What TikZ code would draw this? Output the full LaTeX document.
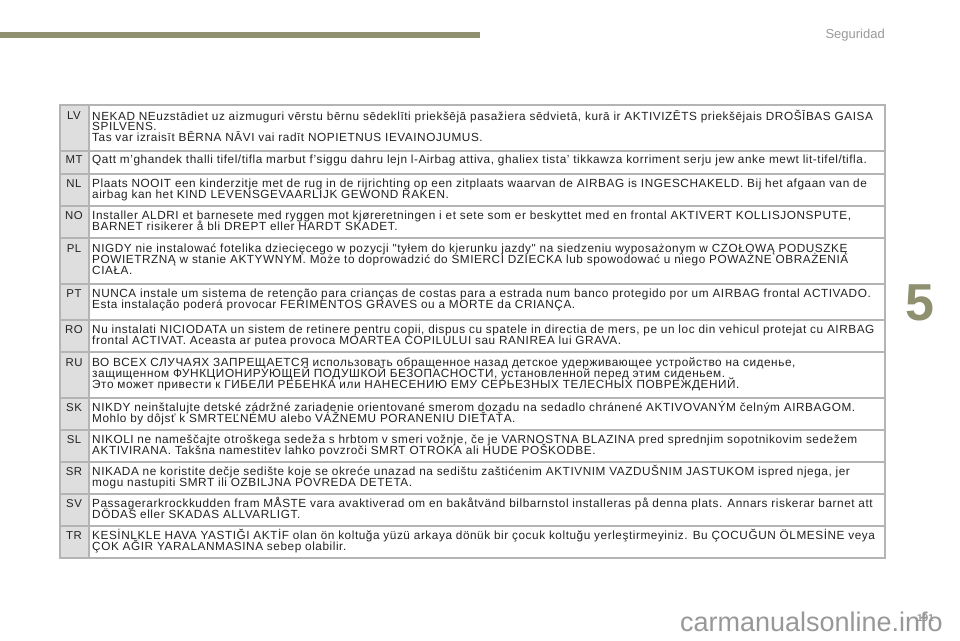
\documentclass[tikz,border=0pt]{standalone}
\usepackage{fontspec}
\setmainfont{Liberation Sans}
\newfontfamily\bodyfont[LetterSpace=4.7]{Liberation Sans}
\lineskiplimit=-100pt\relax
\normallineskiplimit=-100pt\relax
\definecolor{olivebar}{HTML}{8E9070}
\definecolor{rulegrey}{HTML}{B4B4B4}
\definecolor{codefill}{HTML}{DEDEDE}
\definecolor{headgrey}{HTML}{9A9A9A}
\definecolor{wmgrey}{HTML}{989898}
\definecolor{bodytext}{HTML}{222222}
\tikzset{
  x=1pt,y=-1pt,
  cellrule/.style={draw=rulegrey,line width=1.3pt},
  code/.style={anchor=base,font=\bodyfont\fontsize{11.4}{10.8}\selectfont,text=bodytext,inner sep=0pt},
  body/.style={anchor=north west,align=left,font=\bodyfont\fontsize{11.8}{10.8}\selectfont,text=bodytext,inner sep=0pt},
}
\newcommand{\rowtext}[3]{\node[body] (#1) at (92,#2-13.6) {\vrule height 14pt depth 0pt width 0pt\relax #3};}
\begin{document}
\begin{tikzpicture}
\useasboundingbox (0,0) rectangle (960,640);
\fill[white] (0,0) rectangle (960,640);
\fill[olivebar] (0,32) rectangle (480,38);
\node[anchor=base east,inner sep=0pt,text=headgrey,font=\fontsize{13}{14}\selectfont] (head) at (885,38.5) {Seguridad};
\node[anchor=center,inner sep=0pt,text=olivebar,font=\fontsize{52}{52}\bfseries\selectfont] (chap) at (920,303) {5};
% table
\fill[codefill] (60,105) rectangle (89,558);
\draw[cellrule] (60,105) rectangle (885,558);
\draw[cellrule] (89,105) -- (89,558);
\foreach \yy in {151,174,206,238,284,320,352,398,430,462,494,526}
  \draw[cellrule] (60,\yy) -- (885,\yy);
\node[code] (cLV) at (74,119.5) {LV};
\node[code] (cMT) at (74,163) {MT};
\node[code] (cNL) at (74,187) {NL};
\node[code] (cNO) at (74,219) {NO};
\node[code] (cPL) at (74,252) {PL};
\node[code] (cPT) at (74,297) {PT};
\node[code] (cRO) at (74,333) {RO};
\node[code] (cRU) at (74,366) {RU};
\node[code] (cSK) at (74,411) {SK};
\node[code] (cSL) at (74,443) {SL};
\node[code] (cSR) at (74,475) {SR};
\node[code] (cSV) at (74,507) {SV};
\node[code] (cTR) at (74,539) {TR};
\rowtext{tLV}{119.5}{NEKAD NEuzstādiet uz aizmuguri vērstu bērnu sēdeklīti priekšējā pasažiera sēdvietā, kurā ir AKTIVIZĒTS priekšējais DROŠĪBAS GAISA\\SPILVENS.\\Tas var izraisīt BĒRNA NĀVI vai radīt NOPIETNUS IEVAINOJUMUS.}
\rowtext{tMT}{163}{Qatt m’ghandek thalli tifel/tifla marbut f’siggu dahru lejn l-Airbag attiva, ghaliex tista’ tikkawza korriment serju jew anke mewt lit-tifel/tifla.}
\rowtext{tNL}{187}{Plaats NOOIT een kinderzitje met de rug in de rijrichting op een zitplaats waarvan de AIRBAG is INGESCHAKELD. Bij het afgaan van de\\airbag kan het KIND LEVENSGEVAARLIJK GEWOND RAKEN.}
\rowtext{tNO}{219}{Installer ALDRI et barnesete med ryggen mot kjøreretningen i et sete som er beskyttet med en frontal AKTIVERT KOLLISJONSPUTE,\\BARNET risikerer å bli DREPT eller HARDT SKADET.}
\rowtext{tPL}{252}{NIGDY nie instalować fotelika dziecięcego w pozycji "tyłem do kierunku jazdy" na siedzeniu wyposażonym w CZOŁOWĄ PODUSZKĘ\\POWIETRZNĄ w stanie AKTYWNYM. Może to doprowadzić do ŚMIERCI DZIECKA lub spowodować u niego POWAŻNE OBRAŻENIA\\CIAŁA.}
\rowtext{tPT}{297}{NUNCA instale um sistema de retenção para crianças de costas para a estrada num banco protegido por um AIRBAG frontal ACTIVADO.\\Esta instalação poderá provocar FERIMENTOS GRAVES ou a MORTE da CRIANÇA.}
\rowtext{tRO}{333}{Nu instalati NICIODATA un sistem de retinere pentru copii, dispus cu spatele in directia de mers, pe un loc din vehicul protejat cu AIRBAG\\frontal ACTIVAT. Aceasta ar putea provoca MOARTEA COPILULUI sau RANIREA lui GRAVA.}
\rowtext{tRU}{366}{ВО ВСЕХ СЛУЧАЯХ ЗАПРЕЩАЕТСЯ использовать обращенное назад детское удерживающее устройство на сиденье,\\защищенном ФУНКЦИОНИРУЮЩЕЙ ПОДУШКОЙ БЕЗОПАСНОСТИ, установленной перед этим сиденьем.\\Это может привести к ГИБЕЛИ РЕБЕНКА или НАНЕСЕНИЮ ЕМУ СЕРЬЕЗНЫХ ТЕЛЕСНЫХ ПОВРЕЖДЕНИЙ.}
\rowtext{tSK}{411}{NIKDY neinštalujte detské zádržné zariadenie orientované smerom dozadu na sedadlo chránené AKTIVOVANÝM čelným AIRBAGOM.\\Mohlo by dôjsť k SMRTEĽNÉMU alebo VÁŽNEMU PORANENIU DIEŤAŤA.}
\rowtext{tSL}{443}{NIKOLI ne nameščajte otroškega sedeža s hrbtom v smeri vožnje, če je VARNOSTNA BLAZINA pred sprednjim sopotnikovim sedežem\\AKTIVIRANA. Takšna namestitev lahko povzroči SMRT OTROKA ali HUDE POŠKODBE.}
\rowtext{tSR}{475}{NIKADA ne koristite dečje sedište koje se okreće unazad na sedištu zaštićenim AKTIVNIM VAZDUŠNIM JASTUKOM ispred njega, jer\\mogu nastupiti SMRT ili OZBILJNA POVREDA DETETA.}
\rowtext{tSV}{507}{Passagerarkrockkudden fram MÅSTE vara avaktiverad om en bakåtvänd bilbarnstol installeras på denna plats. Annars riskerar barnet att\\DÖDAS eller SKADAS ALLVARLIGT.}
\rowtext{tTR}{539}{KESİNLKLE HAVA YASTIĞI AKTİF olan ön koltuğa yüzü arkaya dönük bir çocuk koltuğu yerleştirmeyiniz. Bu ÇOCUĞUN ÖLMESİNE veya\\ÇOK AĞIR YARALANMASINA sebep olabilir.}
\node[anchor=base east,inner sep=0pt,text=wmgrey,font=\fontsize{10}{10}\bfseries\selectfont] (page) at (934,621) {191};
\node[anchor=base east,inner sep=0pt,text=wmgrey,font=\fontsize{27}{27}\selectfont] (wm) at (943,631) {carmanualsonline.info};
\end{tikzpicture}
\end{document}
